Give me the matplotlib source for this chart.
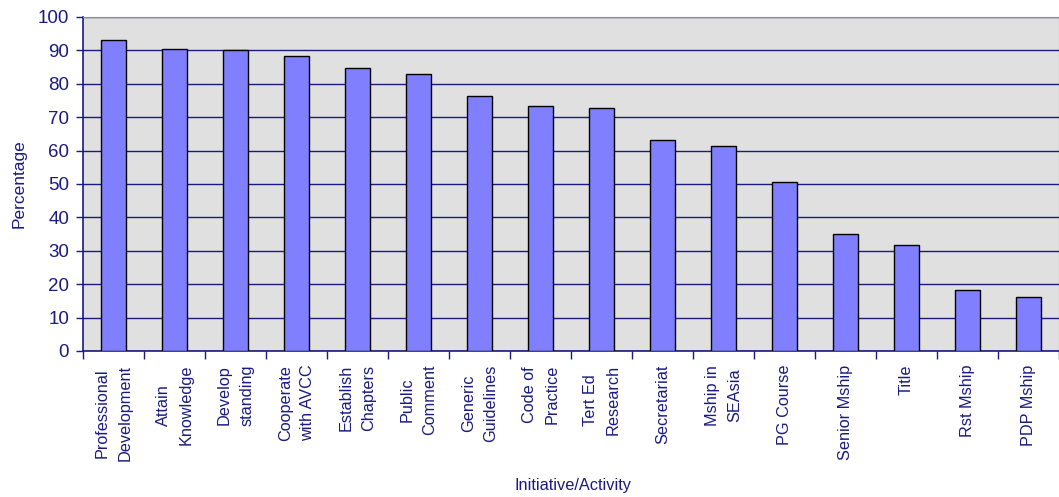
import numpy as np
import matplotlib
matplotlib.use("Agg")
import matplotlib.pyplot as plt

# -----------------------
# Data
# -----------------------
categories = [
    "Professional\nDevelopment", "Attain\nKnowledge", "Develop\nstanding",
    "Cooperate\nwith AVCC", "Establish\nChapters", "Public\nComment",
    "Generic\nGuidelines", "Code of\nPractice", "Tert Ed\nResearch",
    "Secretariat", "Mship in\nSEAsia", "PG Course", "Senior Mship",
    "Title", "Rst Mship", "PDP Mship",
]
percentages = [93.0, 90.5, 90.0, 88.4, 84.6, 83.0, 76.3, 73.4, 72.7,
               63.1, 61.3, 50.7, 34.9, 31.7, 18.3, 16.1]
y_ticks = list(range(0, 101, 10))

# -----------------------
# Style
# -----------------------
NAVY = "#1a1a80"
plt.rcParams["font.family"] = ["Liberation Sans", "DejaVu Sans"]

fig = plt.figure(figsize=(10.59, 4.97), dpi=100)
ax = fig.add_axes([0.0784, 0.2938, 0.9216, 0.672])
ax.set_facecolor("#e0e0e0")

x = np.arange(len(categories))
ax.bar(x, percentages, width=0.41, color="#8080ff",
       edgecolor="black", linewidth=1, zorder=3)

ax.set_xlim(-0.5, len(categories) - 0.5)
ax.set_ylim(0, 100)
ax.set_yticks(y_ticks)
ax.yaxis.grid(True, color=NAVY, linewidth=1, zorder=1)
ax.set_axisbelow(True)

# labels at bar centres, tick marks between categories
ax.set_xticks(x)
ax.set_xticklabels(categories, rotation=90, ha="center", va="top",
                   multialignment="center", fontsize=11.7, color=NAVY,
                   linespacing=1.62)
ax.set_xticks(np.arange(len(categories) + 1) - 0.5, minor=True)
ax.tick_params(axis="x", which="major", length=0, pad=10)
ax.tick_params(axis="x", which="minor", length=6, width=1,
               color=NAVY, direction="out")
ax.tick_params(axis="y", length=5, width=1, color=NAVY,
               labelsize=13.5, labelcolor=NAVY, pad=5)

for side in ["left", "bottom"]:
    ax.spines[side].set_color(NAVY)
    ax.spines[side].set_linewidth(1.2)
for side in ["top", "right"]:
    ax.spines[side].set_color("#909090")

ax.set_ylabel("Percentage", fontsize=12.5, color=NAVY, labelpad=8)
fig.text(0.541, 0.008, "Initiative/Activity", fontsize=11.8, color=NAVY,
         ha="center", va="bottom")

fig.savefig("out.png", dpi=100)
plt.close(fig)
